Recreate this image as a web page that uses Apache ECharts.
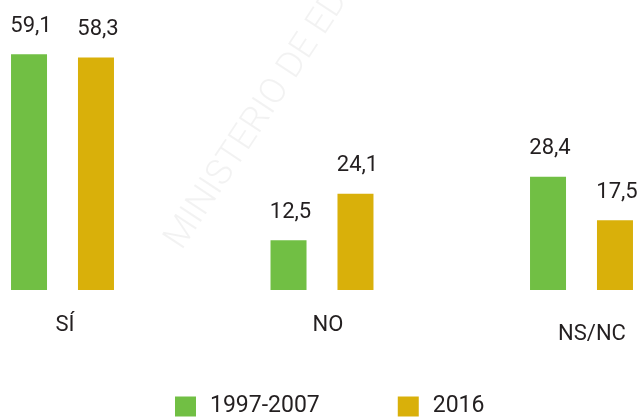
<!DOCTYPE html>
<html>
<head>
<meta charset="utf-8">
<script src="https://cdn.jsdelivr.net/npm/echarts@6/dist/echarts.min.js"></script>
<style>
  html, body { margin: 0; padding: 0; background: #fff; }
  #chart { width: 644px; height: 417px; }
</style>
</head>
<body>
<div id="chart"></div>
<script>
const categories = ['SÍ', 'NO', 'NS/NC']
const seriesNames = ['1997-2007', '2016']
const values1997 = [59.1, 12.5, 28.4]
const values2016 = [58.3, 24.1, 17.5]

const FONT = "'Roboto', sans-serif"
const TEXT = '#231f20'
const colors = ['#71bf44', '#d9b00a']

const myChart = echarts.init(document.getElementById('chart'))

// etiquetas de categoria, cada una con su pequeño desplazamiento
const catStyle = {
  c0: { padding: [0, 0, 0, 5] },
  c1: { padding: [0, 0, 0, 12] },
  c2: { padding: [9, 0, 0, 21] }
}

const barLabel = {
  show: true,
  position: 'top',
  distance: 17,
  offset: [2, 0],
  color: TEXT,
  fontFamily: FONT,
  fontSize: 22,
  formatter: p => String(p.value).replace('.', ',')
}

const option = {
  backgroundColor: '#fff',
  animation: false,
  color: colors,
  graphic: [
    {
      // marca de agua
      type: 'text',
      x: 189,
      y: 256,
      rotation: 56.5 * Math.PI / 180,
      silent: true,
      style: {
        text: 'MINISTERIO DE EDUCACIÓN',
        fontFamily: FONT,
        fontWeight: 300,
        fontSize: 36,
        fill: 'rgba(0,0,0,0.05)',
        textVerticalAlign: 'bottom'
      }
    }
  ],
  grid: {
    left: 62.5,
    right: 62.5,
    top: 50.6,
    height: 239.4
  },
  legend: {
    data: seriesNames,
    left: 175,
    top: 395,
    padding: 0,
    itemWidth: 21,
    itemHeight: 20,
    itemGap: 78,
    icon: 'rect',
    textStyle: {
      color: TEXT,
      fontFamily: FONT,
      fontSize: 23,
      lineHeight: 20,
      padding: [0, 0, 0, 9]
    }
  },
  xAxis: {
    type: 'category',
    data: categories,
    boundaryGap: false,
    axisLine: { show: false },
    axisTick: { show: false },
    axisLabel: {
      margin: 24,
      color: TEXT,
      fontFamily: FONT,
      fontSize: 22,
      formatter: (v, i) => '{c' + i + '|' + v + '}',
      rich: catStyle
    }
  },
  yAxis: {
    type: 'value',
    min: 0,
    max: 60,
    show: false,
    splitLine: { show: false }
  },
  series: [
    {
      name: seriesNames[0],
      type: 'bar',
      barWidth: 36,
      barGap: '86%',
      data: values1997,
      label: barLabel
    },
    {
      name: seriesNames[1],
      type: 'bar',
      barWidth: 36,
      barGap: '86%',
      data: values2016,
      label: barLabel
    }
  ]
}
option && myChart.setOption(option)
</script>
</body>
</html>
